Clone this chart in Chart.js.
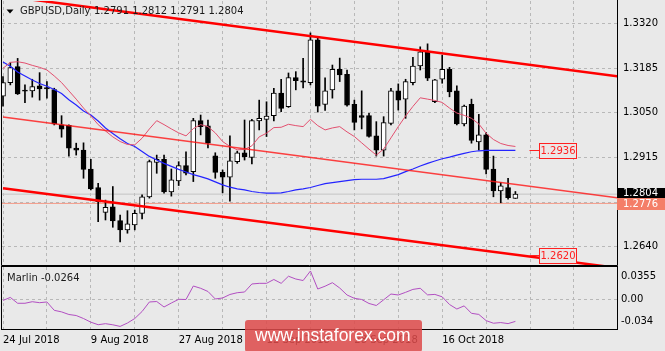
<!DOCTYPE html>
<html>
<head>
<meta charset="utf-8">
<script src="https://cdn.jsdelivr.net/npm/chart.js@4.4.1/dist/chart.umd.min.js"></script>
<style>
  html, body { margin: 0; padding: 0; background: #e9e9e9; }
  #wrap { position: relative; width: 665px; height: 351px; overflow: hidden; }
  canvas { position: absolute; left: 0; }
  #main { top: 0; }
  #sub { top: 266px; }
</style>
</head>
<body>
<div id="wrap">
  <canvas id="main" width="665" height="266"></canvas>
  <canvas id="sub" width="665" height="85"></canvas>
</div>
<script>
// GBPUSD daily candles, 24 Jul 2018 .. 30 Oct 2018
const opens  = [1.3100,1.3141,1.3189,1.3118,1.3116,1.3131,1.3126,1.3120,1.3013,1.3012,
                1.2943,1.2937,1.2880,1.2824,1.2749,1.2766,1.2724,1.2696,1.2711,1.2746,
                1.2796,1.2900,1.2909,1.2811,1.2844,1.2890,1.2872,1.3026,1.3010,1.2920,
                1.2870,1.2855,1.2902,1.2929,1.2915,1.3025,1.3030,1.3041,1.3109,1.3068,
                1.3156,1.3146,1.3141,1.3270,1.3075,1.3119,1.3181,1.3166,1.3075,1.3041,
                1.3041,1.2980,1.2937,1.3018,1.3116,1.3091,1.3141,1.3191,1.3234,1.3083,
                1.3151,1.3181,1.3116,1.3016,1.3075,1.2962,1.2983,1.2880,1.2814,1.2824,
                1.2791];
const highs  = [1.3159,1.3201,1.3214,1.3134,1.3151,1.3171,1.3144,1.3124,1.3041,1.3013,
                1.2958,1.2959,1.2909,1.2837,1.2786,1.2827,1.2741,1.2754,1.2756,1.2802,
                1.2907,1.2922,1.2922,1.2880,1.2902,1.2932,1.3033,1.3043,1.3028,1.2929,
                1.2877,1.2980,1.2934,1.3028,1.3030,1.3088,1.3083,1.3124,1.3151,1.3170,
                1.3174,1.3214,1.3291,1.3278,1.3155,1.3194,1.3215,1.3179,1.3088,1.3116,
                1.3048,1.3023,1.3038,1.3124,1.3137,1.3151,1.3217,1.3249,1.3258,1.3151,
                1.3224,1.3187,1.3131,1.3073,1.3091,1.3045,1.2990,1.2919,1.2839,1.2852,
                1.2812];
const lows   = [1.3070,1.3134,1.3105,1.3080,1.3097,1.3088,1.3094,1.3013,1.2976,1.2919,
                1.2922,1.2852,1.2817,1.2721,1.2726,1.2704,1.2660,1.2686,1.2696,1.2729,
                1.2792,1.2867,1.2807,1.2798,1.2830,1.2862,1.2842,1.2983,1.2944,1.2852,
                1.2808,1.2783,1.2897,1.2907,1.2895,1.2998,1.2978,1.3025,1.3053,1.3066,
                1.3119,1.3125,1.3134,1.3052,1.3057,1.3094,1.3144,1.3070,1.2998,1.3001,
                1.2976,1.2919,1.2919,1.3013,1.3058,1.3033,1.3134,1.3179,1.3147,1.3080,
                1.3139,1.3098,1.3013,1.3010,1.2958,1.2937,1.2865,1.2796,1.2778,1.2789,
                1.2791];
const closes = [1.3141,1.3186,1.3107,1.3115,1.3129,1.3122,1.3122,1.3016,1.3000,1.2943,
                1.2937,1.2879,1.2820,1.2781,1.2764,1.2723,1.2696,1.2714,1.2746,1.2796,
                1.2902,1.2909,1.2811,1.2847,1.2890,1.2867,1.3026,1.3008,1.2958,1.2870,
                1.2855,1.2905,1.2929,1.2917,1.3026,1.3033,1.3040,1.3109,1.3063,1.3156,
                1.3147,1.3142,1.3270,1.3070,1.3116,1.3181,1.3164,1.3073,1.3021,1.3036,
                1.2978,1.2937,1.3020,1.3116,1.3088,1.3144,1.3191,1.3234,1.3154,1.3149,
                1.3181,1.3113,1.3016,1.3070,1.2966,1.2983,1.2879,1.2814,1.2829,1.2793,
                1.2804];

// moving averages (pink = fast, blue = slow)
const maFast = [1.3184,1.3202,1.3204,1.3200,1.3193,1.3187,1.3179,1.3161,1.3141,1.3116,
                1.3091,1.3064,1.3040,1.3014,1.2995,1.2977,1.2963,1.2954,1.2953,1.2973,
                1.3001,1.3026,1.3014,1.3001,1.2989,1.2980,1.3002,1.3014,1.3008,1.2989,
                1.2963,1.2948,1.2938,1.2939,1.2950,1.2977,1.2988,1.3005,1.3006,1.3015,
                1.3011,1.3008,1.3030,1.3011,1.2998,1.3004,1.3008,1.2992,1.2978,1.2959,
                1.2940,1.2922,1.2940,1.2974,1.3008,1.3040,1.3069,1.3095,1.3091,1.3087,
                1.3081,1.3064,1.3049,1.3042,1.3033,1.3016,1.2988,1.2969,1.2957,1.2951,
                1.2948];
const maSlow = [1.3203,1.3190,1.3173,1.3161,1.3149,1.3138,1.3130,1.3120,1.3108,1.3089,
                1.3073,1.3055,1.3043,1.3025,1.3004,1.2987,1.2971,1.2957,1.2948,1.2933,
                1.2918,1.2907,1.2897,1.2888,1.2879,1.2871,1.2863,1.2857,1.2850,1.2841,
                1.2832,1.2825,1.2820,1.2817,1.2812,1.2809,1.2807,1.2807,1.2808,1.2812,
                1.2817,1.2820,1.2824,1.2830,1.2836,1.2839,1.2842,1.2845,1.2848,1.2849,
                1.2849,1.2849,1.2851,1.2857,1.2863,1.2872,1.2880,1.2889,1.2897,1.2904,
                1.2911,1.2916,1.2922,1.2927,1.2932,1.2935,1.2936,1.2936,1.2936,1.2936,
                1.2936];

// Marlin oscillator
const marlin = [-0.0017,0.0029,-0.0061,-0.0061,-0.0037,-0.0052,-0.0041,-0.0169,-0.0193,-0.0233,
                -0.0249,-0.0295,-0.0351,-0.0390,-0.0374,-0.0391,-0.0416,-0.0364,-0.0295,-0.0187,
                -0.0041,-0.0034,-0.0118,-0.0057,0.0000,-0.0003,0.0204,0.0169,0.0120,0.0005,
                0.0020,0.0074,0.0101,0.0112,0.0235,0.0245,0.0245,0.0304,0.0245,0.0354,
                0.0311,0.0288,0.0434,0.0158,0.0201,0.0255,0.0173,0.0066,0.0015,-0.0003,
                -0.0064,-0.0095,-0.0008,0.0081,0.0066,0.0107,0.0152,0.0169,0.0068,0.0075,
                0.0038,-0.0080,-0.0149,-0.0101,-0.0215,-0.0232,-0.0327,-0.0367,-0.0357,-0.0373,
                -0.0339];

// trend lines: price at bar 0 and bar 84
const lineBars   = [0, 84];
const channelTop = [1.3403, 1.3160];
const channelMid = [1.3037, 1.2793];
const channelLow = [1.2822, 1.2581];
const bidPrice = 1.2804;
const askLevel = 1.2776;
const levelLabels = [1.2936, 1.2620];

// axes
const priceTicks = [1.3320, 1.3185, 1.3050, 1.2915, 1.2780, 1.2645];
const priceTickLabels = ['1.3320', '1.3185', '1.3050', '1.2915', '1.2780', '1.2640'];
const marlinTicks = [0.0355, 0, -0.034];
const marlinTickLabels = ['0.0355', '0.00', '-0.034'];
const dateBars = [0, 12, 24, 36, 48, 60];
const dateLabels = ['24 Jul 2018', '9 Aug 2018', '27 Aug 2018', '12 Sep 2018', '28 Sep 2018', '16 Oct 2018'];
const marlinTitle = 'Marlin -0.0264';

const BG = '#e9e9e9';
const GRID = '#b8b8b8';
const xMin = -0.137, xMax = 83.88;
const gridBars = [];
for (let b = 0; b <= 84; b += 6) gridBars.push(b);
const idx = opens.map((_, i) => i);
const last = opens.length - 1;

Chart.defaults.font.family = 'DejaVu Sans';
Chart.defaults.font.size = 10;
Chart.defaults.color = '#000';
Chart.defaults.animation = false;

// no automatic padding for tick labels, the panels have fixed sizes
function noPad(s) {
    s.paddingTop = 0; s.paddingBottom = 0; s.paddingLeft = 0; s.paddingRight = 0;
}

const bgPlugin = {
    id: 'bg',
    beforeDraw(chart) {
        const ctx = chart.ctx;
        ctx.save();
        ctx.fillStyle = BG;
        ctx.fillRect(0, 0, chart.width, chart.height);
        ctx.restore();
    }
};

function lineSet(points, color, width, order) {
    return {
        type: 'line', data: points, borderColor: color, borderWidth: width,
        pointRadius: 0, tension: 0, fill: false, order: order
    };
}

// main price panel decorations
const mainDecor = {
    id: 'mainDecor',
    afterDraw(chart) {
        const ctx = chart.ctx;
        const ys = chart.scales.y, xs = chart.scales.x;
        const a = chart.chartArea;
        ctx.save();
        // frame: left, right and bottom
        ctx.strokeStyle = '#000';
        ctx.lineWidth = 1;
        ctx.beginPath();
        ctx.moveTo(a.left - 0.5, 0);
        ctx.lineTo(a.left - 0.5, a.bottom + 0.5);
        ctx.lineTo(a.right + 0.5, a.bottom + 0.5);
        ctx.lineTo(a.right + 0.5, 0);
        ctx.stroke();
        // level labels
        ctx.font = '10px "DejaVu Sans"';
        ctx.textBaseline = 'middle';
        ctx.textAlign = 'center';
        levelLabels.forEach(v => {
            const y = Math.round(ys.getPixelForValue(v)) + 0.5;
            const bx = Math.round(xs.getPixelForValue(73.2)) + 0.5;
            ctx.strokeStyle = '#ff2020';
            ctx.beginPath();
            ctx.moveTo(bx - 10, y);
            ctx.lineTo(bx, y);
            ctx.stroke();
            ctx.fillStyle = '#ebe6e6';
            ctx.fillRect(bx, y - 7, 37, 15);
            ctx.strokeRect(bx, y - 7, 37, 15);
            ctx.fillStyle = '#ff2020';
            ctx.fillText(v.toFixed(4), bx + 18.5, y + 1);
        });
        // price boxes on the axis
        ctx.textAlign = 'left';
        const yb = ys.getPixelForValue(bidPrice);
        ctx.fillStyle = '#000';
        ctx.fillRect(a.right, Math.round(yb - 6.5), 48, 11);
        ctx.fillStyle = '#fff';
        ctx.fillText(bidPrice.toFixed(4), a.right + 6, yb - 1);
        const ya = ys.getPixelForValue(askLevel);
        ctx.fillStyle = '#f47e68';
        ctx.fillRect(a.right, Math.round(ya - 5), 48, 12);
        ctx.fillStyle = '#fff';
        ctx.fillText(askLevel.toFixed(4), a.right + 6, ya + 1);
        // title
        ctx.fillStyle = '#000';
        ctx.beginPath();
        ctx.moveTo(6.5, 9.5);
        ctx.lineTo(13.5, 9.5);
        ctx.lineTo(10, 13.5);
        ctx.closePath();
        ctx.fill();
        ctx.fillStyle = '#1a1a1a';
        ctx.textBaseline = 'alphabetic';
        ctx.fillText('GBPUSD,Daily', 20, 14);
        const q = [opens[last], highs[last], lows[last], closes[last]].map(v => v.toFixed(4)).join(' ');
        ctx.fillText(q, 94, 14);
        ctx.restore();
    }
};

new Chart(document.getElementById('main').getContext('2d'), {
    type: 'bar',
    data: {
        datasets: [
            lineSet(lineBars.map((b, k) => ({x: b, y: channelTop[k]})), '#ff0000', 2.5, 0),
            lineSet(lineBars.map((b, k) => ({x: b, y: channelLow[k]})), '#ff0000', 2.5, 0),
            lineSet(lineBars.map((b, k) => ({x: b, y: channelMid[k]})), 'rgba(255,20,20,0.8)', 1.4, 0),
            lineSet(idx.map(i => ({x: i, y: maFast[i]})), '#e3506f', 1, 1),
            lineSet(idx.map(i => ({x: i, y: maSlow[i]})), '#2424ff', 1.2, 1),
            {
                type: 'bar',
                data: idx.map(i => ({x: i, y: [opens[i], closes[i]]})),
                backgroundColor: idx.map(i => closes[i] >= opens[i] ? '#ffffff' : '#000000'),
                borderColor: '#000', borderWidth: 1, borderSkipped: false,
                barThickness: 5, grouped: false, order: 3
            },
            {
                type: 'bar',
                data: idx.map(i => ({x: i, y: [lows[i], highs[i]]})),
                backgroundColor: '#000', borderWidth: 0,
                barThickness: 1, grouped: false, order: 4
            },
            lineSet([{x: -1, y: bidPrice}, {x: 90, y: bidPrice}], '#c4c4c4', 1, 5),
            lineSet([{x: -1, y: askLevel}, {x: 90, y: askLevel}], '#f49a88', 1, 5)
        ]
    },
    options: {
        responsive: false,
        devicePixelRatio: 1,
        layout: { padding: { left: 2, top: 1, right: 0, bottom: 1 } },
        plugins: { legend: { display: false }, tooltip: { enabled: false } },
        scales: {
            x: {
                type: 'linear', min: xMin, max: xMax, offset: false,
                afterBuildTicks: s => { s.ticks = gridBars.map(v => ({value: v})); },
                afterFit: s => { s.height = 0; noPad(s); },
                ticks: { display: false },
                grid: { color: GRID, drawTicks: false, offset: false },
                border: { display: false, dash: [3, 3] }
            },
            y: {
                position: 'right', min: 1.2590, max: 1.33874, beginAtZero: false,
                afterBuildTicks: s => { s.ticks = priceTicks.map(v => ({value: v})); },
                afterFit: s => { s.width = 48; noPad(s); },
                ticks: { callback: (v, i) => priceTickLabels[i], padding: 6, color: '#000' },
                grid: { color: GRID, drawTicks: false },
                border: { display: false, dash: [3, 3] }
            }
        }
    },
    plugins: [bgPlugin, mainDecor]
});

// Marlin panel decorations
const subDecor = {
    id: 'subDecor',
    afterDraw(chart) {
        const ctx = chart.ctx;
        const a = chart.chartArea;
        ctx.save();
        ctx.strokeStyle = '#000';
        ctx.lineWidth = 1;
        ctx.strokeRect(a.left - 0.5, a.top - 0.5, a.right - a.left + 1, a.bottom - a.top + 1);
        ctx.font = '10px "DejaVu Sans"';
        ctx.fillStyle = '#1a1a1a';
        ctx.fillText(marlinTitle, 7, 14.5);
        // watermark
        ctx.fillStyle = 'rgba(221,74,74,0.86)';
        ctx.beginPath();
        ctx.roundRect(245, 54, 177, 32, 3);
        ctx.fill();
        ctx.fillStyle = '#fff';
        ctx.font = '17.5px "Liberation Sans"';
        ctx.fillText('www.instaforex.com', 255, 75);
        ctx.restore();
    }
};

new Chart(document.getElementById('sub').getContext('2d'), {
    type: 'line',
    data: {
        datasets: [
            lineSet(idx.map(i => ({x: i, y: marlin[i]})), '#b24fc2', 1, 0)
        ]
    },
    options: {
        responsive: false,
        devicePixelRatio: 1,
        layout: { padding: { left: 2, top: 1, right: 0, bottom: 0 } },
        plugins: { legend: { display: false }, tooltip: { enabled: false } },
        scales: {
            x: {
                type: 'linear', min: xMin, max: xMax,
                afterBuildTicks: s => { s.ticks = gridBars.map(v => ({value: v})); },
                afterFit: s => { s.height = 22; noPad(s); },
                ticks: {
                    callback: v => { const k = dateBars.indexOf(v); return k < 0 ? '' : dateLabels[k]; },
                    align: 'start', autoSkip: false, maxRotation: 0, padding: 5, color: '#000'
                },
                grid: { color: GRID, drawTicks: false },
                border: { display: false, dash: [3, 3] }
            },
            y: {
                position: 'right', min: -0.04557, max: 0.04956,
                afterBuildTicks: s => { s.ticks = marlinTicks.map(v => ({value: v})); },
                afterFit: s => { s.width = 48; noPad(s); },
                ticks: { callback: (v, i) => marlinTickLabels[i], padding: 4, color: '#000' },
                grid: { color: c => (c.tick && c.tick.value === 0) ? GRID : 'rgba(0,0,0,0)', drawTicks: false },
                border: { display: false, dash: [3, 3] }
            }
        }
    },
    plugins: [bgPlugin, subDecor]
});
</script>
</body>
</html>
